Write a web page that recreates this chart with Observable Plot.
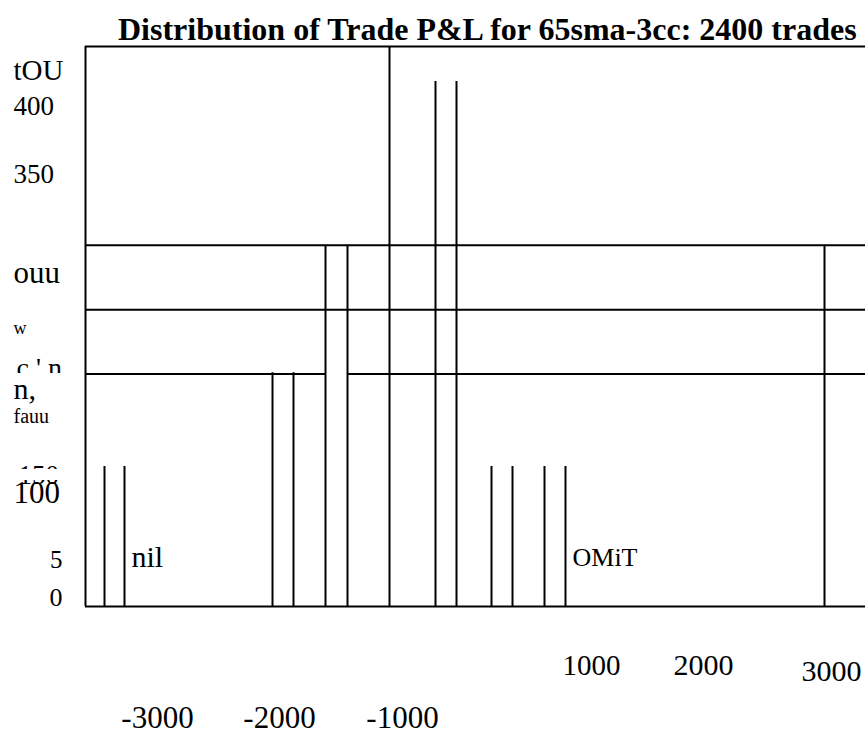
<!DOCTYPE html>
<html><head><meta charset="utf-8">
<script src="https://cdn.jsdelivr.net/npm/d3@7"></script>
<script src="https://cdn.jsdelivr.net/npm/@observablehq/plot@0.6"></script>
<style>
html,body{margin:0;padding:0;background:#fff;}
#title{height:45px;width:865px;box-sizing:border-box;padding-left:118px;font-family:"Liberation Serif",serif;font-weight:bold;font-size:32px;line-height:1;padding-top:13px;white-space:nowrap;color:#000;overflow:visible;}
svg{display:block;}
</style></head><body>
<div id="title"></div>
<div id="chart"></div>
<script>
const chartTitle = "Distribution of Trade P&L for 65sma-3cc: 2400 trades";

// histogram bins (P&L left edge, right edge, trade count)
const binLeft  = [-3110, -1430, -900, 200, 760, 1290];
const binRight = [-2910, -1220, -680, 410, 970, 1500];
const binCount = [100, 167, 258, 375, 100, 100];

// single bar edges
const lineX     = [-260, 4090];
const lineCount = [400, 258];

// horizontal lines (count level, from P&L, to P&L)
const xMin = -3300, xMax = 4500;
const hLevel = [400, 258, 212, 166, 166, 0];
const hFrom  = [xMin, xMin, xMin, xMin, -680, xMin];
const hTo    = [xMax, xMax, xMax, -900, xMax, xMax];

// y tick labels (as printed) and their count levels
const yLabels = ["tOU", "400", "350", "ouu", "w", "c ' n", "n,", "fauu", "150", "100", "5", "0"];
const yLevels = [383, 357, 309, 238, 199, 170, 155, 136, 94, 81, 33, 6];

// x tick labels (as printed) with P&L positions and count levels
const xLabels = ["-3000", "-2000", "-1000", "1000", "2000", "3000"];
const xValues = [-2580, -1360, -130, 1760, 2880, 4160];
const xLevels = [-80, -80, -80, -42, -42, -46];

// annotation texts inside the plot
const notes = ["nil", "OMiT"];
const noteX = [-2840, 1570];
const noteY = [35, 35];

// cut-off bands
const cutTop = [166.4, 97.9];
const cutBottom = [159, 90];

document.getElementById("title").textContent = chartTitle;

const vSegs = [];
binLeft.forEach((l, i) => {
  vSegs.push({x: l, h: binCount[i]});
  vSegs.push({x: binRight[i], h: binCount[i]});
});
lineX.forEach((x, i) => vSegs.push({x, h: lineCount[i]}));
vSegs.push({x: xMin, h: 400});

const hSegs = hLevel.map((y, i) => ({y, x1: hFrom[i], x2: hTo[i]}));

const sizeOf = {"tOU": 29, "400": 27, "350": 27, "ouu": 31, "w": 18, "c ' n": 28, "n,": 30, "fauu": 20, "150": 27, "100": 31, "5": 25, "0": 26,
  "nil": 30, "OMiT": 26, "-3000": 31, "-2000": 31, "-1000": 31, "1000": 29, "2000": 30, "3000": 30};
const isClipped = t => t === "150" || t === "c ' n";
const isRight = t => t === "5" || t === "0";
const yTicks = yLabels.map((t, i) => ({t, y: yLevels[i]}));
const clipped = yTicks.filter(d => isClipped(d.t));
const leftTicks = yTicks.filter(d => !isClipped(d.t) && !isRight(d.t));
const rightTicks = yTicks.filter(d => isRight(d.t));
const xTicks = xLabels.map((t, i) => ({t, x: xValues[i], y: xLevels[i]}));
const noteData = notes.map((t, i) => ({t, x: noteX[i], y: noteY[i]}));
const cuts = cutTop.map((y2, i) => ({y1: cutBottom[i], y2}));

const font = "'Liberation Serif', serif";
const chart = Plot.plot({
  width: 865, height: 702,
  marginLeft: 85, marginRight: 0, marginTop: 1, marginBottom: 141,
  x: {domain: [xMin, xMax], axis: null},
  y: {domain: [0, 400], axis: null},
  style: {fontFamily: font, background: "white", color: "black"},
  marks: [
    Plot.text(clipped, {x: d => d.t === "150" ? -3970 : -3990, y: "y", text: "t", textAnchor: "start", fontSize: d => sizeOf[d.t], fill: "black"}),
    Plot.rect(cuts, {x1: xMin - 900, x2: xMin - 20, y1: "y1", y2: "y2", fill: "white"}),
    Plot.text(leftTicks, {x: -4020, y: "y", text: "t", textAnchor: "start", fontSize: d => sizeOf[d.t], fill: "black"}),
    Plot.text(rightTicks, {x: -3530, y: "y", text: "t", textAnchor: "end", fontSize: d => sizeOf[d.t], fill: "black"}),
    Plot.ruleY(hSegs, {y: "y", x1: "x1", x2: "x2", stroke: "black", strokeWidth: 2}),
    Plot.ruleX(vSegs, {x: "x", y1: 0, y2: "h", stroke: "black", strokeWidth: 2}),
    Plot.text(xTicks, {x: "x", y: "y", text: "t", fontSize: d => sizeOf[d.t], fill: "black"}),
    Plot.text(noteData, {x: "x", y: "y", text: "t", textAnchor: "start", fontSize: d => sizeOf[d.t], fill: "black"})
  ]
});
document.getElementById("chart").appendChild(chart);
</script>
</body></html>
